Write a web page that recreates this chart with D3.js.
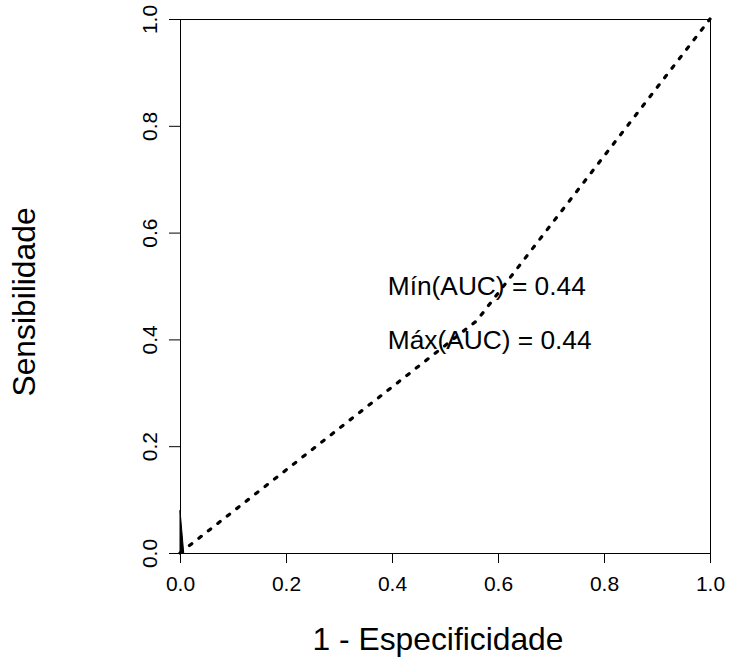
<!DOCTYPE html>
<html>
<head>
<meta charset="utf-8">
<script src="https://cdn.jsdelivr.net/npm/d3@7"></script>
<style>
  body { margin: 0; background: #fff; }
  text { font-family: "Liberation Sans", Arial, sans-serif; fill: #000; }
</style>
</head>
<body>
<div id="roc"></div>
<script>
// ROC curve (1 - especificidade, sensibilidade)
var rocFpr = [0, 0.56, 1];
var rocTpr = [0, 0.435, 1];

// thin black sliver at the origin
var sliverFpr = [0, 0, 0.007];
var sliverTpr = [0, 0.08, 0];

var tickValues = [0, 0.2, 0.4, 0.6, 0.8, 1.0];
var notes = ["Mín(AUC) = 0.44", "Máx(AUC) = 0.44"];
var noteY = [0.5, 0.4];
var noteX = 0.392;

var width = 729, height = 657;
var plotLeft = 180, plotRight = 710, plotTop = 19, plotBottom = 553;

var svg = d3.select("#roc")
  .append("svg")
  .attr("width", width)
  .attr("height", height);

var x = d3.scaleLinear().domain([0, 1]).range([plotLeft, plotRight]);
var y = d3.scaleLinear().domain([0, 1]).range([plotBottom, plotTop]);

// axes, R style
svg.append("g")
  .attr("transform", "translate(0," + plotBottom + ")")
  .call(d3.axisBottom(x).tickValues(tickValues).tickFormat(d3.format(".1f")).tickSize(10).tickPadding(13))
  .call(g => g.select(".domain").attr("stroke", "#000"))
  .call(g => g.selectAll("text").attr("font-size", 21).attr("font-family", "Liberation Sans, Arial, sans-serif"));

var yAxis = svg.append("g")
  .attr("transform", "translate(" + plotLeft + ",0)")
  .call(d3.axisLeft(y).tickValues(tickValues).tickFormat(d3.format(".1f")).tickSize(11))
  .call(g => g.select(".domain").attr("stroke", "#000"));

yAxis.selectAll(".tick text")
  .attr("x", null).attr("dy", null)
  .attr("transform", "translate(-23,0) rotate(-90)")
  .attr("text-anchor", "middle")
  .attr("font-size", 21)
  .attr("font-family", "Liberation Sans, Arial, sans-serif");

// box
svg.append("rect")
  .attr("x", plotLeft + 0.5).attr("y", plotTop + 0.5)
  .attr("width", plotRight - plotLeft).attr("height", plotBottom - plotTop)
  .attr("fill", "none").attr("stroke", "#000");

// sliver at origin
svg.append("path")
  .datum(d3.range(sliverFpr.length))
  .attr("d", d3.line().x(i => x(sliverFpr[i])).y(i => y(sliverTpr[i])))
  .attr("fill", "#000")
  .attr("stroke", "#000")
  .attr("stroke-width", 1);

// dotted ROC curve
svg.append("path")
  .datum(d3.range(rocFpr.length))
  .attr("d", d3.line().x(i => x(rocFpr[i])).y(i => y(rocTpr[i])))
  .attr("fill", "none")
  .attr("stroke", "#000")
  .attr("stroke-width", 3.2)
  .attr("stroke-linecap", "round")
  .attr("stroke-dasharray", "3,9");

// annotations
svg.append("g").selectAll("text")
  .data(notes)
  .enter()
  .append("text")
  .attr("x", x(noteX))
  .attr("y", (d, i) => y(noteY[i]))
  .attr("dy", "0.35em")
  .attr("font-size", 26.3)
  .text(d => d);

// axis titles
svg.append("text")
  .attr("x", 438)
  .attr("y", 650)
  .attr("text-anchor", "middle")
  .attr("font-size", 31.8)
  .text("1 - Especificidade");

svg.append("text")
  .attr("transform", "translate(35,302) rotate(-90)")
  .attr("text-anchor", "middle")
  .attr("font-size", 31.8)
  .text("Sensibilidade");
</script>
</body>
</html>
